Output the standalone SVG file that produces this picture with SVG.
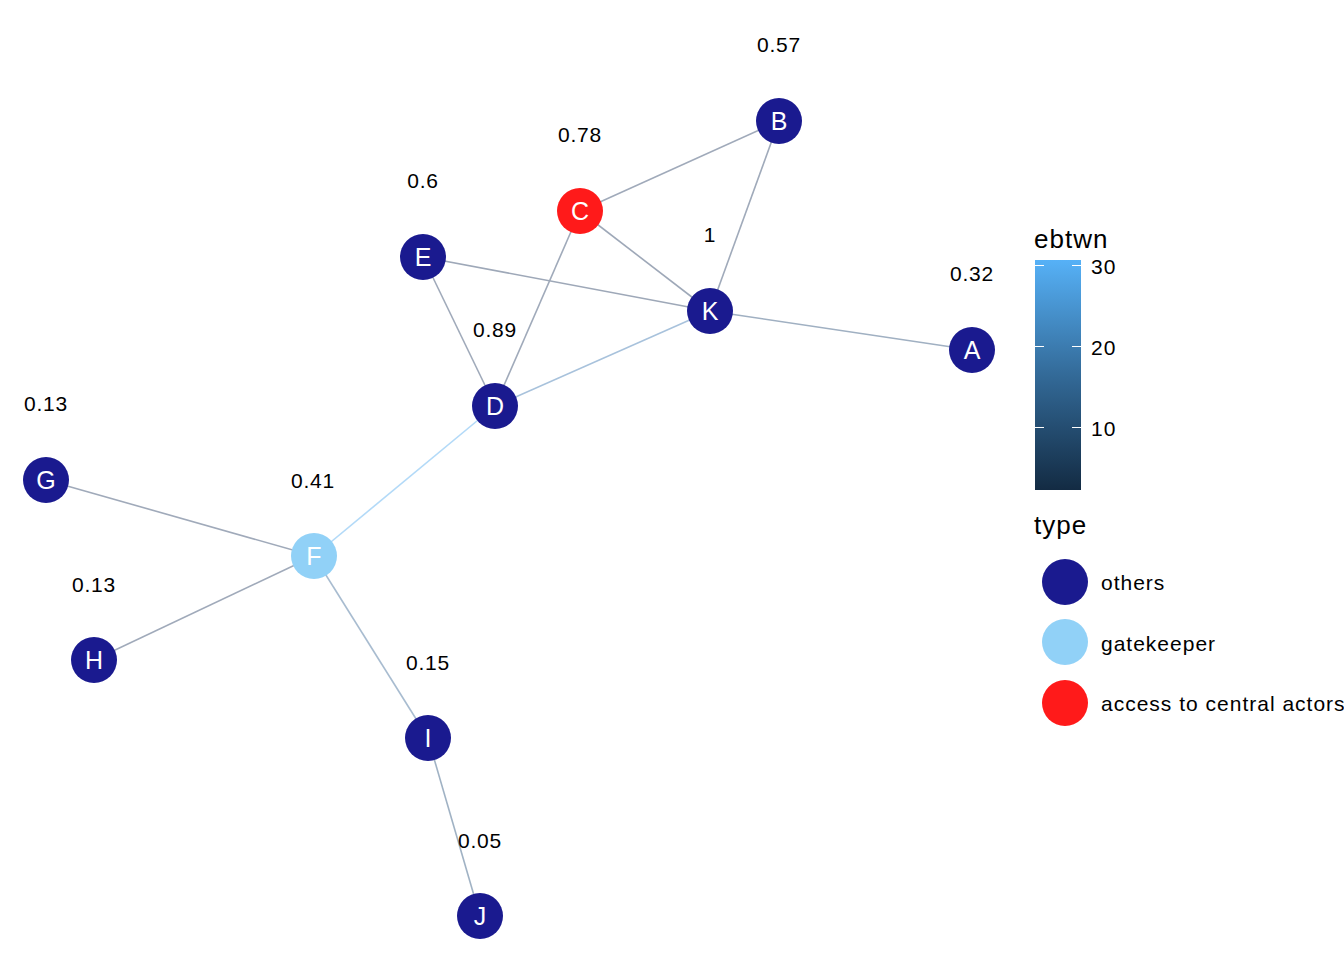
<svg xmlns="http://www.w3.org/2000/svg" width="1344" height="960" viewBox="0 0 1344 960">
<defs>
<linearGradient id="cbar" x1="0" y1="0" x2="0" y2="1">
<stop offset="0" stop-color="#56B1F7"/>
<stop offset="0.5" stop-color="#336A98"/>
<stop offset="1" stop-color="#132B43"/>
</linearGradient>
<style>
.edge{stroke-width:1.6;fill:none}
.node circle{stroke:none}
.others{fill:#1A1A8F}
.gate{fill:#91D1F7}
.access{fill:#FF1A1A}
.nl{font-family:"Liberation Sans",Arial,sans-serif;font-size:25px;fill:#FFFFFF;text-anchor:middle}
.val{font-family:"Liberation Sans",Arial,sans-serif;font-size:21px;letter-spacing:0.8px;fill:#000000;text-anchor:middle}
.lt{font-family:"Liberation Sans",Arial,sans-serif;font-size:26px;letter-spacing:1px;fill:#000000}
.ll{font-family:"Liberation Sans",Arial,sans-serif;font-size:21px;letter-spacing:1px;fill:#000000}
.tick{stroke:#FFFFFF;stroke-width:1}
</style>
</defs>
<rect width="1344" height="960" fill="#FFFFFF"/>
<g id="connectors">
<line class="edge" x1="779" y1="121" x2="580" y2="211" stroke="#A0AABA"/>
<line class="edge" x1="779" y1="121" x2="710" y2="311" stroke="#A0AABA"/>
<line class="edge" x1="580" y1="211" x2="710" y2="311" stroke="#9EA8B8"/>
<line class="edge" x1="580" y1="211" x2="495" y2="406" stroke="#A0AABA"/>
<line class="edge" x1="423" y1="257" x2="710" y2="311" stroke="#9EA8B8"/>
<line class="edge" x1="423" y1="257" x2="495" y2="406" stroke="#A0AABA"/>
<line class="edge" x1="495" y1="406" x2="710" y2="311" stroke="#A8C2DC"/>
<line class="edge" x1="710" y1="311" x2="972" y2="350" stroke="#A0B0C2"/>
<line class="edge" x1="495" y1="406" x2="314" y2="556" stroke="#B3DAF8"/>
<line class="edge" x1="46" y1="480" x2="314" y2="556" stroke="#A0AABA"/>
<line class="edge" x1="94" y1="660" x2="314" y2="556" stroke="#A0AABA"/>
<line class="edge" x1="314" y1="556" x2="428" y2="738" stroke="#A8BCD0"/>
<line class="edge" x1="428" y1="738" x2="480" y2="916" stroke="#A0B2C4"/>
</g>
<g id="node-A" class="node"><circle class="others" cx="972" cy="350" r="23"/><text class="nl" x="972" y="359">A</text><text class="val" x="972" y="281">0.32</text></g>
<g id="node-B" class="node"><circle class="others" cx="779" cy="121" r="23"/><text class="nl" x="779" y="130">B</text><text class="val" x="779" y="52">0.57</text></g>
<g id="node-C" class="node"><circle class="access" cx="580" cy="211" r="23"/><text class="nl" x="580" y="220">C</text><text class="val" x="580" y="142">0.78</text></g>
<g id="node-D" class="node"><circle class="others" cx="495" cy="406" r="23"/><text class="nl" x="495" y="415">D</text><text class="val" x="495" y="337">0.89</text></g>
<g id="node-E" class="node"><circle class="others" cx="423" cy="257" r="23"/><text class="nl" x="423" y="266">E</text><text class="val" x="423" y="188">0.6</text></g>
<g id="node-F" class="node"><circle class="gate" cx="314" cy="556" r="23"/><text class="nl" x="314" y="565">F</text><text class="val" x="313" y="488">0.41</text></g>
<g id="node-G" class="node"><circle class="others" cx="46" cy="480" r="23"/><text class="nl" x="46" y="489">G</text><text class="val" x="46" y="411">0.13</text></g>
<g id="node-H" class="node"><circle class="others" cx="94" cy="660" r="23"/><text class="nl" x="94" y="669">H</text><text class="val" x="94" y="592">0.13</text></g>
<g id="node-I" class="node"><circle class="others" cx="428" cy="738" r="23"/><text class="nl" x="428" y="747">I</text><text class="val" x="428" y="670">0.15</text></g>
<g id="node-J" class="node"><circle class="others" cx="480" cy="916" r="23"/><text class="nl" x="480" y="925">J</text><text class="val" x="480" y="848">0.05</text></g>
<g id="node-K" class="node"><circle class="others" cx="710" cy="311" r="23"/><text class="nl" x="710" y="320">K</text><text class="val" x="710" y="242">1</text></g>
<g id="legend-ebtwn">
<text class="lt" x="1034" y="248">ebtwn</text>
<rect x="1035" y="260" width="46" height="230" fill="url(#cbar)"/>
<line class="tick" x1="1035" y1="265.5" x2="1044" y2="265.5"/><line class="tick" x1="1072" y1="265.5" x2="1081" y2="265.5"/>
<line class="tick" x1="1035" y1="346.5" x2="1044" y2="346.5"/><line class="tick" x1="1072" y1="346.5" x2="1081" y2="346.5"/>
<line class="tick" x1="1035" y1="427.5" x2="1044" y2="427.5"/><line class="tick" x1="1072" y1="427.5" x2="1081" y2="427.5"/>
<text class="ll" x="1091" y="274">30</text>
<text class="ll" x="1091" y="355">20</text>
<text class="ll" x="1091" y="436">10</text>
</g>
<g id="legend-type">
<text class="lt" x="1034" y="534">type</text>
<circle class="others" cx="1065" cy="582" r="23"/>
<text class="ll" x="1101" y="590">others</text>
<circle class="gate" cx="1065" cy="642" r="23"/>
<text class="ll" x="1101" y="651">gatekeeper</text>
<circle class="access" cx="1065" cy="703" r="23"/>
<text class="ll" x="1101" y="711">access to central actors</text>
</g>
</svg>
